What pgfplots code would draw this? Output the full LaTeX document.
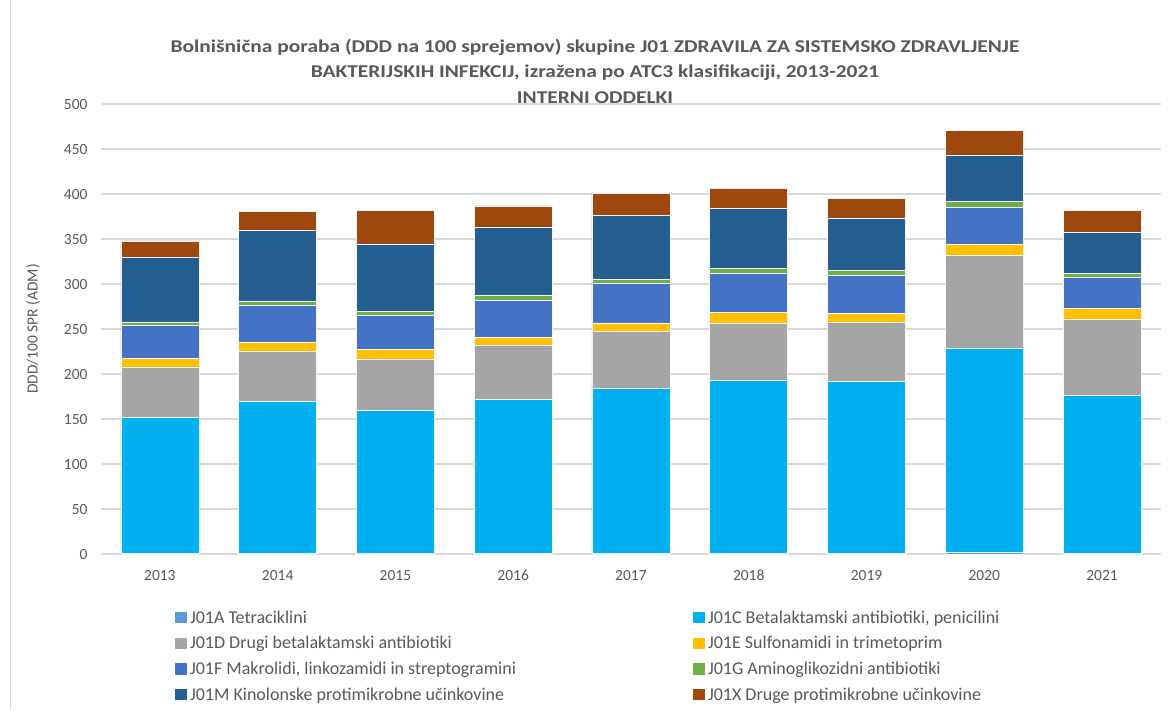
\documentclass[border=0pt]{standalone}
\usepackage{fontspec}
\setmainfont{Carlito}
\usepackage{pgfplots}
\pgfplotsset{compat=1.18}
\usepackage{pgfplotstable}
\definecolor{cA}{HTML}{5B9BD5}
\definecolor{cC}{HTML}{00B0F0}
\definecolor{cD}{HTML}{A5A5A5}
\definecolor{cE}{HTML}{FFC000}
\definecolor{cF}{HTML}{4472C4}
\definecolor{cG}{HTML}{70AD47}
\definecolor{cM}{HTML}{255E91}
\definecolor{cX}{HTML}{9E480E}
\definecolor{txt}{HTML}{595959}
\definecolor{gridc}{HTML}{D9D9D9}
\pgfplotstableread{
x A C D E F G M X
0 1 151.2 55.6 9.6 36.3 4.1 71.4 18.6
1 1 168.3 55.5 10.8 40.3 5.2 79.0 21.0
2 1 158.6 57.1 10.7 37.4 5.2 74.1 38.1
3 1 171.2 59.3 9.6 40.4 6.3 75.5 23.4
4 1 182.7 63.4 9.6 43.7 4.8 71.1 24.4
5 1 191.6 64.1 11.8 43.0 5.5 66.7 22.2
6 1 190.5 65.9 10.0 41.9 5.5 57.8 22.2
7 2.2 226.7 102.6 12.2 41.1 7.4 50.7 27.8
8 1 175.3 84.8 11.9 34.1 5.1 44.9 24.7
}\data
\newcommand{\legw}[1]{\makebox[503pt][l]{#1}}
\begin{document}
\begin{tikzpicture}
\useasboundingbox (0,0) rectangle (1170pt,710pt);
\fill[white] (0,0) rectangle (1170pt,710pt);
\draw[gridc, line width=1pt] (10pt,0) -- (10pt,710pt);
\begin{axis}[
  at={(101pt,156pt)}, anchor=south west,
  scale only axis, width=1060pt, height=450pt,
  ybar stacked, bar width=78pt,
  xmin=-0.5, xmax=8.5, ymin=0, ymax=500,
  xtick={0,...,8},
  xticklabels={2013,2014,2015,2016,2017,2018,2019,2020,2021},
  ytick={0,50,...,500},
  ymajorgrids, grid style={gridc, line width=1.3pt},
  axis x line*=bottom, axis y line*=left,
  y axis line style={draw=none},
  x axis line style={draw=gridc, line width=1.3pt},
  major tick length=0pt, tick style={draw=none},
  /pgf/number format/assume math mode=true,
  yticklabel style={font=\fontsize{15.5}{15.5}\selectfont, text=txt, xshift=-10pt, text height=10pt, text depth=0pt},
  xticklabel style={font=\fontsize{15.5}{15.5}\selectfont, text=txt, yshift=-13pt, text height=10pt, text depth=0pt},
  enlargelimits=false,
  every axis plot/.append style={draw=white!70!gridc, line width=0.5pt},
  legend columns=2,
  legend cell align=left,
  legend image code/.code={\fill[#1,draw=none] (0pt,-4.3pt) rectangle (12pt,7.2pt);},
  legend style={at={(0.0697,-0.124)}, anchor=north west, draw=none, fill=none,
    inner sep=0pt, row sep=7.7pt,
    font=\fontsize{18}{18}\selectfont, text=txt,
    nodes={inner sep=0pt, text height=13pt, text depth=5pt},
    /tikz/every odd column/.append style={column sep=3pt}},
]
\addplot[fill=cA] table[x=x,y=A]{\data};
\addplot[fill=cC] table[x=x,y=C]{\data};
\addplot[fill=cD] table[x=x,y=D]{\data};
\addplot[fill=cE] table[x=x,y=E]{\data};
\addplot[fill=cF] table[x=x,y=F]{\data};
\addplot[fill=cG] table[x=x,y=G]{\data};
\addplot[fill=cM] table[x=x,y=M]{\data};
\addplot[fill=cX] table[x=x,y=X]{\data};
\legend{{\legw{J01A Tetraciklini}}, {J01C Betalaktamski antibiotiki, penicilini},
  {\legw{J01D Drugi betalaktamski antibiotiki}}, {J01E Sulfonamidi in trimetoprim},
  {\legw{J01F Makrolidi, linkozamidi in streptogramini}}, {J01G Aminoglikozidni antibiotiki},
  {\legw{J01M Kinolonske protimikrobne učinkovine}}, {J01X Druge protimikrobne učinkovine}}
\end{axis}
\node[rotate=90, font=\fontsize{15.5}{15.5}\selectfont, text=txt] at (33pt,381pt) {DDD/100 SPR (ADM)};
\node[align=center, xscale=1.19, font=\bfseries\fontsize{18}{25.5}\selectfont, text=txt] at (595pt,639pt)
 {Bolnišnična poraba (DDD na 100 sprejemov) skupine J01 ZDRAVILA ZA SISTEMSKO ZDRAVLJENJE\\
  BAKTERIJSKIH INFEKCIJ, izražena po ATC3 klasifikaciji, 2013-2021\\
  INTERNI ODDELKI};
\end{tikzpicture}
\end{document}
